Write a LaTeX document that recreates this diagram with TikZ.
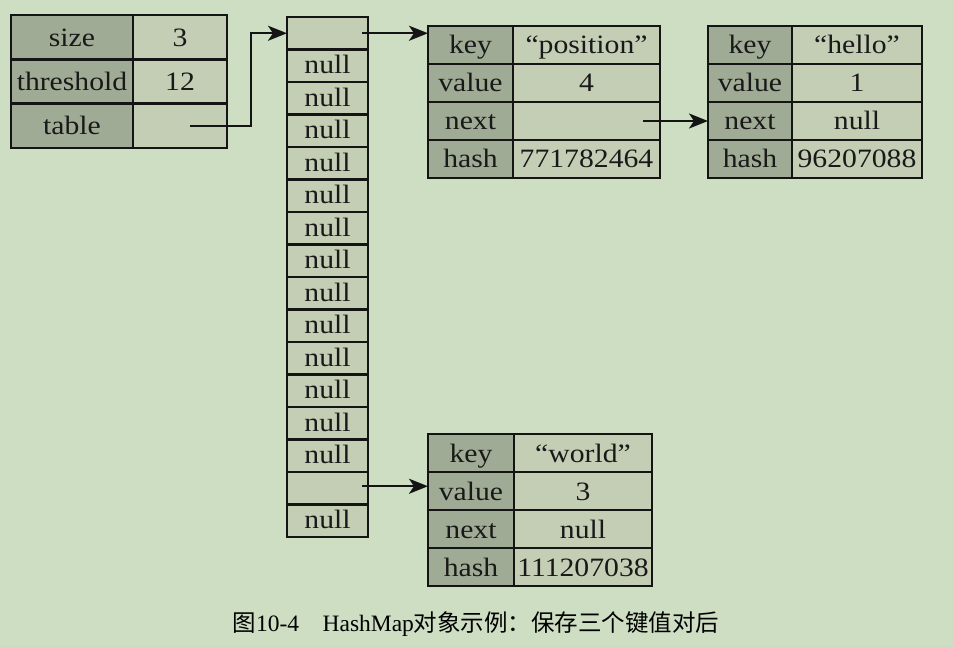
\documentclass[tikz,border=0pt]{standalone}
\usepackage{fontspec}
\setmainfont{Liberation Serif}[FakeStretch=1.12]
\newfontfamily\capfont{Liberation Serif}
\newfontfamily\cjk{Noto Sans CJK SC}
\usetikzlibrary{arrows.meta,calc}
\definecolor{bgc}{HTML}{CDDEC3}
\definecolor{lightc}{HTML}{C3CEB5}
\definecolor{darkc}{HTML}{A0AB95}
\definecolor{linec}{HTML}{141414}
\tikzset{
  cell/.style={draw=linec, line width=2.5pt, anchor=north west, inner sep=0pt, outer sep=0pt,
    font=\fontsize{26.5}{28}\selectfont, text height=18pt, text depth=0pt, text=black!90},
  labcell/.style={cell, fill=darkc},
  valcell/.style={cell, fill=lightc},
  arr/.style={draw=linec, line width=2.4pt, -{Stealth[length=19pt,width=15pt,inset=5pt]}},
}
\begin{document}
\begin{tikzpicture}[x=1pt,y=-1pt]
\fill[bgc] (0,0) rectangle (953,647);
\useasboundingbox (0,0) rectangle (953,647);

% HashMap object table
\node[labcell, minimum width=122pt, minimum height=44.3pt] (sizeK) at (11,15) {size};
\node[valcell, minimum width=94pt, minimum height=44.3pt] (sizeV) at (133,15) {3};
\node[labcell, minimum width=122pt, minimum height=44.3pt] (threshK) at (11,59.3) {threshold};
\node[valcell, minimum width=94pt, minimum height=44.3pt] (threshV) at (133,59.3) {12};
\node[labcell, minimum width=122pt, minimum height=44.3pt] (tableK) at (11,103.6) {table};
\node[valcell, minimum width=94pt, minimum height=44.3pt] (tableV) at (133,103.6) {};

% array of 16 buckets
\foreach \i/\t in {0/{},1/null,2/null,3/null,4/null,5/null,6/null,7/null,8/null,9/null,10/null,11/null,12/null,13/null,14/{},15/null}{
  \node[valcell, minimum width=81pt, minimum height=32.5pt, text height=16pt] (a\i) at (287,17+\i*32.5) {\t};
}

% entry "position"
\node[labcell, minimum width=85pt, minimum height=38pt] (pK1) at (428,26) {key};
\node[valcell, minimum width=147pt, minimum height=38pt] (pV1) at (513,26) {“position”};
\node[labcell, minimum width=85pt, minimum height=38pt] (pK2) at (428,64) {value};
\node[valcell, minimum width=147pt, minimum height=38pt] (pV2) at (513,64) {4};
\node[labcell, minimum width=85pt, minimum height=38pt] (pK3) at (428,102) {next};
\node[valcell, minimum width=147pt, minimum height=38pt] (pV3) at (513,102) {};
\node[labcell, minimum width=85pt, minimum height=38pt] (pK4) at (428,140) {hash};
\node[valcell, minimum width=147pt, minimum height=38pt] (pV4) at (513,140) {771782464};

% entry "hello"
\node[labcell, minimum width=84pt, minimum height=38pt] (hK1) at (708,26) {key};
\node[valcell, minimum width=130pt, minimum height=38pt] (hV1) at (792,26) {“hello”};
\node[labcell, minimum width=84pt, minimum height=38pt] (hK2) at (708,64) {value};
\node[valcell, minimum width=130pt, minimum height=38pt] (hV2) at (792,64) {1};
\node[labcell, minimum width=84pt, minimum height=38pt] (hK3) at (708,102) {next};
\node[valcell, minimum width=130pt, minimum height=38pt] (hV3) at (792,102) {null};
\node[labcell, minimum width=84pt, minimum height=38pt] (hK4) at (708,140) {hash};
\node[valcell, minimum width=130pt, minimum height=38pt] (hV4) at (792,140) {96207088};

% entry "world"
\node[labcell, minimum width=86pt, minimum height=38pt] (wK1) at (428,434) {key};
\node[valcell, minimum width=138pt, minimum height=38pt] (wV1) at (514,434) {“world”};
\node[labcell, minimum width=86pt, minimum height=38pt] (wK2) at (428,472) {value};
\node[valcell, minimum width=138pt, minimum height=38pt] (wV2) at (514,472) {3};
\node[labcell, minimum width=86pt, minimum height=38pt] (wK3) at (428,510) {next};
\node[valcell, minimum width=138pt, minimum height=38pt] (wV3) at (514,510) {null};
\node[labcell, minimum width=86pt, minimum height=38pt] (wK4) at (428,548) {hash};
\node[valcell, minimum width=138pt, minimum height=38pt] (wV4) at (514,548) {111207038};

% pointers
\coordinate (tptr) at ([xshift=-37pt]tableV.east);
\coordinate (tbend) at ([xshift=24pt]tableV.east);
\draw[arr] (tptr) -- (tbend) |- (a0.west);

\coordinate (a0ptr) at ([xshift=-6pt]a0.east);
\draw[arr] (a0ptr) -- (a0ptr -| pK1.west);

\coordinate (nptr) at ([xshift=-17pt]pV3.east);
\draw[arr] (nptr) -- (nptr -| hK3.west);

\coordinate (a14ptr) at ([xshift=-6pt,yshift=2pt]a14.east);
\draw[arr] (a14ptr) -- (a14ptr -| wK2.west);

% caption
\node[font=\fontsize{23.5}{25}\selectfont, inner sep=0pt] (cap) at (476,624)
  {{\cjk 图}\capfont 10-4\hspace{1em}HashMap{\cjk 对象示例：保存三个键值对后}};
\end{tikzpicture}
\end{document}
